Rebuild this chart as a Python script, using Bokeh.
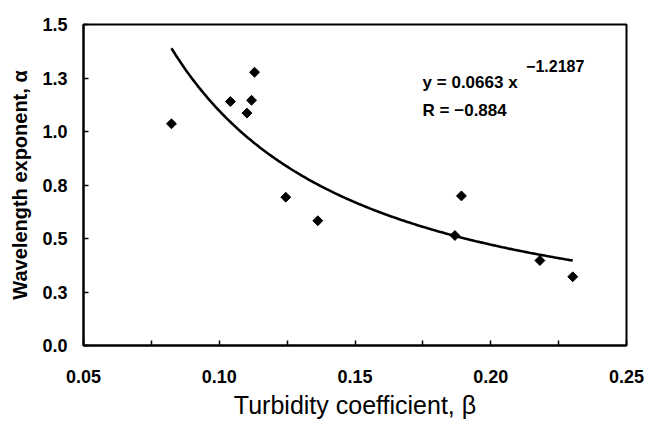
import numpy as np
from bokeh.plotting import figure
from bokeh.models import Range1d, FixedTicker, Label
from bokeh.embed import file_html
from bokeh.resources import INLINE

# Data
beta = [0.0824, 0.1041, 0.1102, 0.1119, 0.1130, 0.1245, 0.1363, 0.1868, 0.1892, 0.2181, 0.2302]
alpha = [1.036, 1.140, 1.086, 1.146, 1.277, 0.693, 0.583, 0.514, 0.699, 0.397, 0.321]

# Power-law fit printed on the chart
fit_a = 0.0663
fit_b = -1.2187
fit_r = -0.884

x_ticks = [0.05, 0.10, 0.15, 0.20, 0.25]
x_tick_labels = ["0.05", "0.10", "0.15", "0.20", "0.25"]
x_minor_ticks = [0.075, 0.125, 0.175, 0.225]
y_ticks = [0.0, 0.25, 0.5, 0.75, 1.0, 1.25, 1.5]
y_tick_labels = ["0.0", "0.3", "0.5", "0.8", "1.0", "1.3", "1.5"]

x_title = "Turbidity coefficient, β"
y_title = "Wavelength exponent, α"

FONT = "Liberation Sans"

p = figure(width=646, height=426, output_backend="svg", toolbar_location=None,
           x_range=Range1d(0.05, 0.25), y_range=Range1d(0.0, 1.5),
           min_border_left=83, min_border_right=20, min_border_top=24, min_border_bottom=81)
p.background_fill_color = "white"
p.border_fill_color = "white"
p.outline_line_color = "black"
p.outline_line_width = 2
p.xgrid.visible = False
p.ygrid.visible = False

# axes
p.xaxis.ticker = FixedTicker(ticks=x_ticks, minor_ticks=x_minor_ticks)
p.xaxis.major_label_overrides = {t: l for t, l in zip(x_ticks, x_tick_labels)}
p.yaxis.ticker = FixedTicker(ticks=y_ticks, minor_ticks=[])
p.yaxis.major_label_overrides = {t: l for t, l in zip(y_ticks, y_tick_labels)}
for ax in (p.xaxis, p.yaxis):
    ax.axis_line_color = "black"
    ax.axis_line_width = 2
    ax.major_tick_line_color = "black"
    ax.major_tick_line_width = 1.5
    ax.major_tick_in = 5
    ax.major_tick_out = 0
    ax.minor_tick_line_color = "black"
    ax.minor_tick_line_width = 1.5
    ax.minor_tick_in = 5
    ax.minor_tick_out = 0
    ax.major_label_text_font = FONT
    ax.major_label_text_font_style = "bold"
    ax.major_label_text_font_size = "18px"
    ax.major_label_text_color = "black"
    ax.axis_label_text_font = FONT
    ax.axis_label_text_color = "black"
p.xaxis.major_label_standoff = 24
p.yaxis.major_label_standoff = 16

p.xaxis.axis_label = x_title
p.xaxis.axis_label_text_font_size = "25px"
p.xaxis.axis_label_text_font_style = "normal"
p.xaxis.axis_label_standoff = 5

p.yaxis.axis_label = y_title
p.yaxis.axis_label_text_font_size = "20px"
p.yaxis.axis_label_text_font_style = "bold"
p.yaxis.axis_label_standoff = 8

# fit curve
xs = np.linspace(min(beta), max(beta), 200)
ys = fit_a * xs ** fit_b
p.line(xs, ys, line_color="black", line_width=2.6)

# data points
p.scatter(beta, alpha, marker="square", angle=np.pi / 4, size=7,
          fill_color="black", line_color="black")

# equation text
eq_style = dict(text_font=FONT, text_font_style="bold", text_font_size="17px",
                text_color="black", text_baseline="alphabetic")
p.add_layout(Label(x=0.1749, y=1.229, text=f"y = {fit_a} x", **eq_style))
p.add_layout(Label(x=0.2130, y=1.305, text=f"\u2212{abs(fit_b)}",
                   **{**eq_style, "text_font_size": "16px"}))
p.add_layout(Label(x=0.1749, y=1.098, text=f"R = \u2212{abs(fit_r)}", **eq_style))

open("out.html", "w").write(file_html(p, INLINE))
